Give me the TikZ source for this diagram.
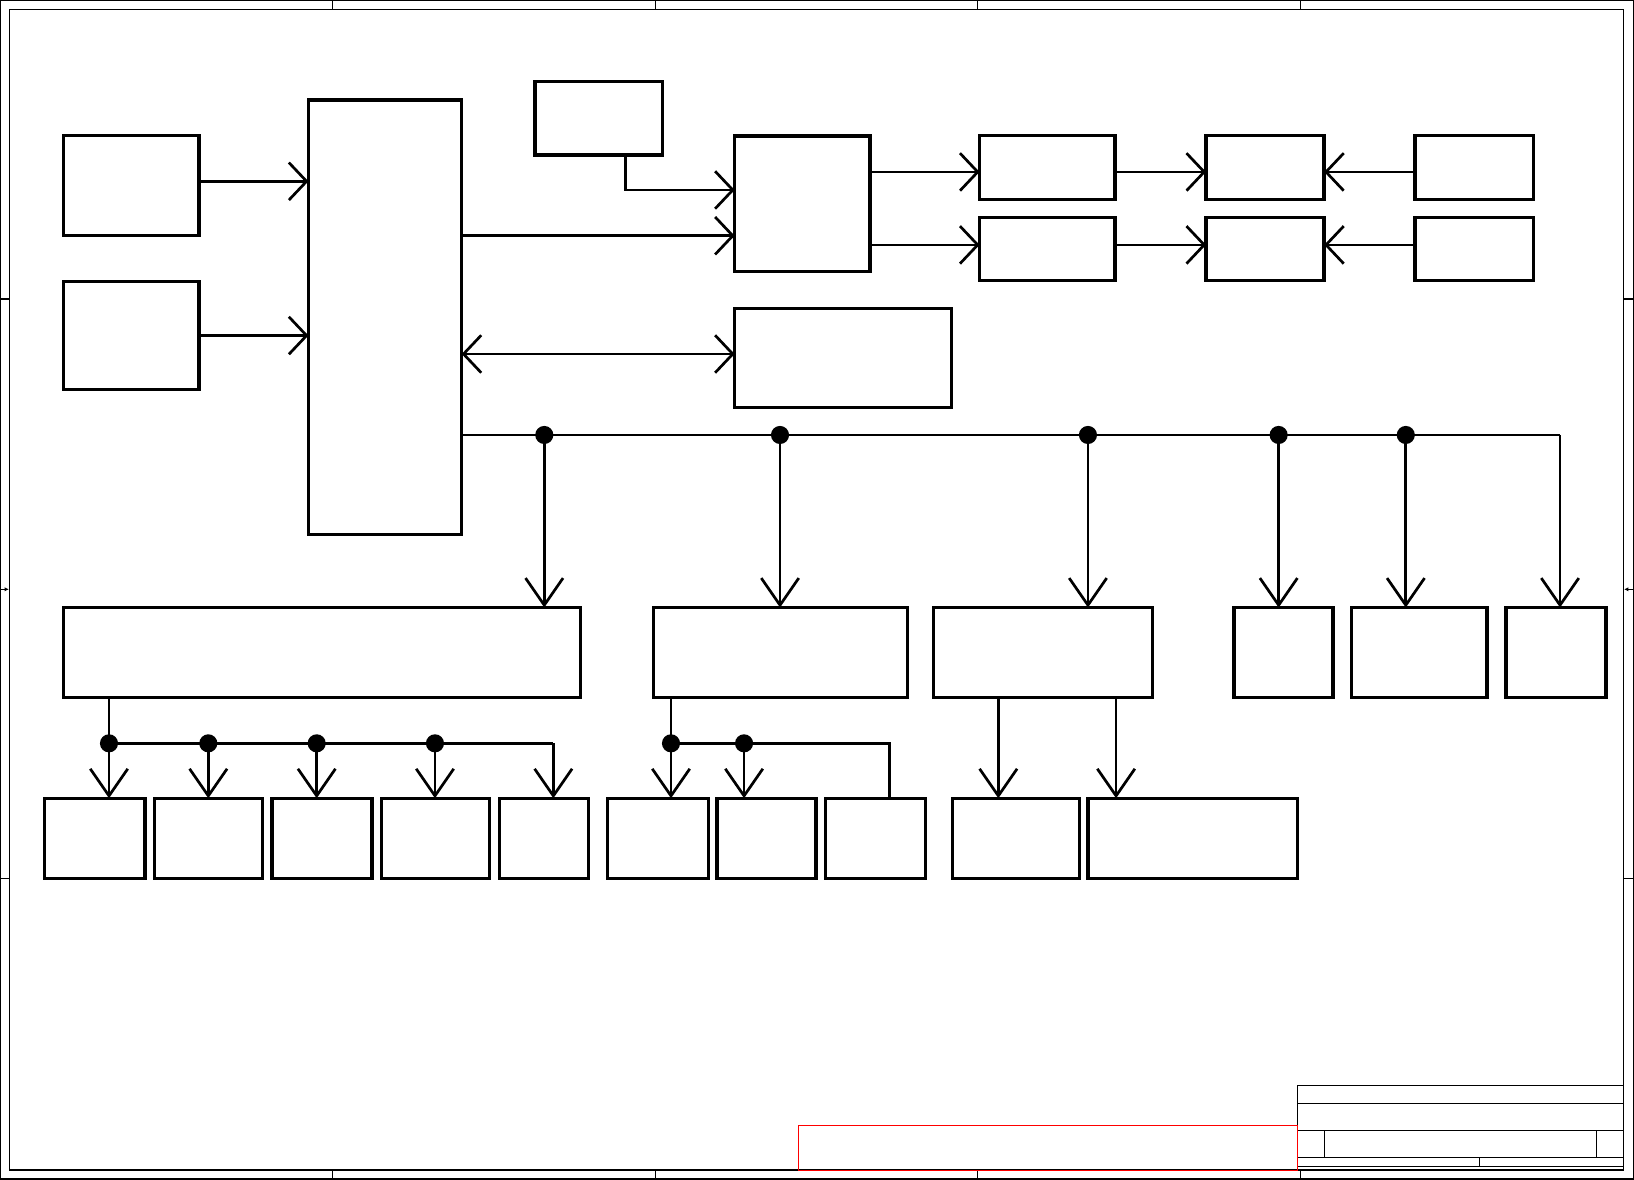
\documentclass[tikz,border=0pt]{standalone}
\usetikzlibrary{arrows.meta,positioning,calc}

\begin{document}
\begin{tikzpicture}[x=1pt,y=-1pt,
  blk/.style={draw,line width=3.2pt,inner sep=0pt,outer sep=0pt},
  wire/.style={line width=2.6pt},
  harr/.style={wire,-{Straight Barb[length=17pt,width=36pt]}},
  varr/.style={wire,-{Straight Barb[length=26pt,width=36pt]}},
  sheetline/.style={line width=1.2pt}]
\useasboundingbox (0,0) rectangle (1568,1132);

% sheet frame
\draw[sheetline] (0.6,0.6) rectangle (1567.4,1131.4);
\draw[sheetline] (9,9) rectangle (1558,1122.7);
\foreach \x in {319,629,938,1248} {
  \draw[sheetline] (\x,0.6) -- (\x,9);
  \draw[sheetline] (\x,1122.7) -- (\x,1131.4);
}
\foreach \y in {287,843} {
  \draw[sheetline] (0.6,\y) -- (9,\y);
  \draw[sheetline] (1558,\y) -- (1567.4,\y);
}
\draw[sheetline,-{Latex[length=4pt,width=4pt]}] (0.6,565.5) -- (8.5,565.5);
\draw[sheetline,-{Latex[length=4pt,width=4pt]}] (1567.4,565.5) -- (1558.5,565.5);

% title block
\draw[sheetline] (1245,1122.7) -- (1245,1041.5) -- (1558,1041.5);
\draw[sheetline] (1245,1058.8) -- (1558,1058.8);
\draw[sheetline] (1245,1084.7) -- (1558,1084.7);
\draw[sheetline] (1245,1110.6) -- (1558,1110.6);
\draw[sheetline] (1245,1119.2) -- (1558,1119.2);
\draw[sheetline] (1270.8,1084.7) -- (1270.8,1110.6);
\draw[sheetline] (1531.9,1084.7) -- (1531.9,1110.6);
\draw[sheetline] (1419.6,1110.6) -- (1419.6,1119.2);
\draw[red,line width=1.2pt] (766,1080) rectangle (1245,1123);

% upper blocks
\node[blk,minimum width=130,minimum height=96] (src1) at (126,178) {};
\node[blk,minimum width=130,minimum height=104] (src2) at (126,322) {};
\node[blk,minimum width=147,minimum height=417] (core) at (369.5,304.5) {};
\node[blk,minimum width=122.6,minimum height=70.3] (aux) at (574.7,113.5) {};
\node[blk,minimum width=130,minimum height=130] (ctrl) at (770,195.6) {};
\node[blk,minimum width=208,minimum height=95] (mem) at (809,343.5) {};
\node[blk,minimum width=130,minimum height=61] (e1) at (1005,160.75) {};
\node[blk,minimum width=130,minimum height=60.4] (e2) at (1005,239.1) {};
\node[blk,minimum width=113.3,minimum height=61] (f1) at (1214,160.75) {};
\node[blk,minimum width=113.3,minimum height=60.4] (f2) at (1214,239.1) {};
\node[blk,minimum width=113.5,minimum height=61] (g1) at (1414.6,160.75) {};
\node[blk,minimum width=113.5,minimum height=60.4] (g2) at (1414.6,239.1) {};

% middle row
\node[blk,minimum width=496,minimum height=86.5] (h) at (309,626.25) {};
\node[blk,minimum width=244,minimum height=86.5] (i) at (749,626.25) {};
\node[blk,minimum width=210,minimum height=86.5] (j) at (1001,626.25) {};
\node[blk,minimum width=95,minimum height=86.5] (k) at (1231.5,626.25) {};
\node[blk,minimum width=130,minimum height=86.5] (l) at (1362,626.25) {};
\node[blk,minimum width=96,minimum height=86.5] (n) at (1493,626.25) {};

% bottom row
\node[blk,minimum width=96,minimum height=77] (p1) at (91,804.5) {};
\node[blk,minimum width=104,minimum height=77] (p2) at (200,804.5) {};
\node[blk,minimum width=96,minimum height=77] (p3) at (309,804.5) {};
\node[blk,minimum width=104,minimum height=77] (p4) at (418,804.5) {};
\node[blk,minimum width=86,minimum height=77] (p5) at (522,804.5) {};
\node[blk,minimum width=97,minimum height=77] (p6) at (631.5,804.5) {};
\node[blk,minimum width=95,minimum height=77] (p7) at (735.5,804.5) {};
\node[blk,minimum width=96,minimum height=77] (p8) at (840,804.5) {};
\node[blk,minimum width=122,minimum height=77] (q1) at (975,804.5) {};
\node[blk,minimum width=201,minimum height=77] (q2) at (1144.5,804.5) {};

% routing points
\coordinate (hin) at (0,174);
\coordinate (hclk) at (600.4,182.3);
\coordinate (hcore) at (0,226.2);
\coordinate (hmem) at (0,339.7);
\coordinate (hA) at (0,165);
\coordinate (hB) at (0,235);
\coordinate (t1) at (522.3,417.4);
\coordinate (t2) at (748.5,417.4);
\coordinate (t3) at (1044,417.4);
\coordinate (t4) at (1227,417.4);
\coordinate (t5) at (1349,417.4);
\coordinate (t6) at (1497,417.4);
\coordinate (s1) at (104.6,713.3);
\coordinate (s2) at (199.9,713.3);
\coordinate (s3) at (303.9,713.3);
\coordinate (s4) at (417.4,713.3);
\coordinate (s5) at (531,713.3);
\coordinate (u1) at (643.9,713.3);
\coordinate (u2) at (714,713.3);
\coordinate (u3) at (853.4,713.3);
\coordinate (v1) at (958,700);
\coordinate (v2) at (1071,700);

% upper connections
\draw[harr] (src1.east |- hin) -- (core.west |- hin);
\draw[harr] (src2.east) -- (src2.east -| core.west);
\draw[harr] (aux.south -| hclk) -- (hclk) -- (ctrl.west |- hclk);
\draw[harr] (core.east |- hcore) -- (ctrl.west |- hcore);
\draw[wire,{Straight Barb[length=17pt,width=36pt]}-{Straight Barb[length=17pt,width=36pt]}] (core.east |- hmem) -- (mem.west |- hmem);
\draw[harr] (ctrl.east |- hA) -- (e1.west |- hA);
\draw[harr] (ctrl.east |- hB) -- (e2.west |- hB);
\draw[harr] (e1.east |- hA) -- (f1.west |- hA);
\draw[harr] (e2.east |- hB) -- (f2.west |- hB);
\draw[harr] (g1.west |- hA) -- (f1.east |- hA);
\draw[harr] (g2.west |- hB) -- (f2.east |- hB);

% main bus
\draw[wire] (core.east |- t1) -- (t6);
\draw[varr] (t1) -- (t1 |- h.north);
\draw[varr] (t2) -- (t2 |- i.north);
\draw[varr] (t3) -- (t3 |- j.north);
\draw[varr] (t4) -- (t4 |- k.north);
\draw[varr] (t5) -- (t5 |- l.north);
\draw[varr] (t6) -- (t6 |- n.north);
\fill (t1) circle[radius=8.7pt] (t2) circle[radius=8.7pt] (t3) circle[radius=8.7pt]
      (t4) circle[radius=8.7pt] (t5) circle[radius=8.7pt];

% lower branches
\draw[wire] (h.south -| s1) -- (s1) -- (s5);
\draw[varr] (s1) -- (s1 |- p1.north);
\draw[varr] (s2) -- (s2 |- p2.north);
\draw[varr] (s3) -- (s3 |- p3.north);
\draw[varr] (s4) -- (s4 |- p4.north);
\draw[varr] (s5) -- (s5 |- p5.north);
\fill (s1) circle[radius=8.7pt] (s2) circle[radius=8.7pt] (s3) circle[radius=8.7pt] (s4) circle[radius=8.7pt];

\draw[wire] (i.south -| u1) -- (u1) -- (u3) -- (u3 |- p8.north);
\draw[varr] (u1) -- (u1 |- p6.north);
\draw[varr] (u2) -- (u2 |- p7.north);
\fill (u1) circle[radius=8.7pt] (u2) circle[radius=8.7pt];

\draw[varr] (j.south -| v1) -- (v1 |- q1.north);
\draw[varr] (j.south -| v2) -- (v2 |- q2.north);
\end{tikzpicture}
\end{document}
